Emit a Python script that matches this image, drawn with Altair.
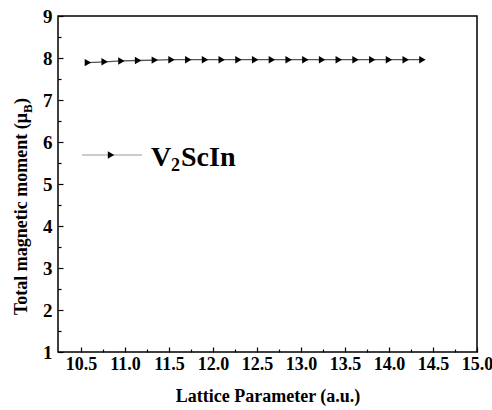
import altair as alt
import pandas as pd

# ---- data ----
lattice = [10.58, 10.77, 10.96, 11.15, 11.34, 11.53, 11.72, 11.91, 12.10, 12.29, 12.48,
           12.67, 12.86, 13.05, 13.24, 13.43, 13.62, 13.81, 14.00, 14.19, 14.38]
moment = [7.89, 7.91, 7.93, 7.94, 7.95, 7.96, 7.96, 7.96, 7.96, 7.96, 7.96,
          7.96, 7.96, 7.96, 7.96, 7.96, 7.96, 7.96, 7.96, 7.96, 7.96]
x_major = [10.5, 11.0, 11.5, 12.0, 12.5, 13.0, 13.5, 14.0, 14.5, 15.0]
x_minor = [10.75, 11.25, 11.75, 12.25, 12.75, 13.25, 13.75, 14.25, 14.75]
y_major = [1, 2, 3, 4, 5, 6, 7, 8, 9]
y_minor = [1.5, 2.5, 3.5, 4.5, 5.5, 6.5, 7.5, 8.5]

df = pd.DataFrame({"a": lattice, "m": moment})

FONT = "Liberation Serif"
xs = alt.Scale(domain=[10.24, 15.0], nice=False, zero=False)
ys = alt.Scale(domain=[1, 9], nice=False, zero=False)

major_x = alt.Axis(values=x_major, format=".1f", orient="bottom", offset=-5, tickSize=5,
                   tickWidth=1.2, tickColor="black", domain=False, grid=False,
                   labelFont=FONT, labelFontWeight="bold", labelFontSize=18, labelColor="black",
                   labelPadding=3, labelFlush=False, labelOverlap=False,
                   title="Lattice Parameter (a.u.)", titleFont=FONT, titleFontWeight="bold",
                   titleFontSize=18, titleColor="black", titlePadding=14)
major_y = alt.Axis(values=y_major, format="d", orient="left", offset=-5, tickSize=5,
                   tickWidth=1.2, tickColor="black", domain=False, grid=False,
                   labelFont=FONT, labelFontWeight="bold", labelFontSize=19, labelColor="black",
                   labelPadding=6, labelFlush=False, labelOverlap=False, title="")
minor_x = alt.Axis(values=x_minor, orient="bottom", offset=-3, tickSize=3, tickWidth=1.2,
                   tickColor="black", domain=False, grid=False, labels=False, title="")
minor_y = alt.Axis(values=y_minor, orient="left", offset=-3, tickSize=3, tickWidth=1.2,
                   tickColor="black", domain=False, grid=False, labels=False, title="")

line = alt.Chart(df).mark_line(color="#555555", strokeWidth=1.3).encode(
    x=alt.X("a:Q", scale=xs, axis=major_x),
    y=alt.Y("m:Q", scale=ys, axis=major_y),
)
pts = alt.Chart(df).mark_point(shape="triangle-right", filled=True, color="black",
                               size=55, opacity=1).encode(
    x=alt.X("a:Q", scale=xs, axis=minor_x),
    y=alt.Y("m:Q", scale=ys, axis=minor_y),
)

# legend (manual)
leg_df = pd.DataFrame({"k": [0]})
leg_line = alt.Chart(leg_df).mark_rule(color="#999999", strokeWidth=1).encode(
    x=alt.value(24), x2=alt.value(84), y=alt.value(139))
leg_pt = alt.Chart(leg_df).mark_point(shape="triangle-right", filled=True, color="black",
                                      size=55, opacity=1).encode(
    x=alt.value(53), y=alt.value(139))
leg_v = alt.Chart(leg_df).mark_text(text="V", font=FONT, fontWeight="bold", fontSize=28,
                                    align="left", baseline="alphabetic", color="black").encode(
    x=alt.value(93), y=alt.value(150))
leg_2 = alt.Chart(leg_df).mark_text(text="2", font=FONT, fontWeight="bold", fontSize=18,
                                    align="left", baseline="alphabetic", color="black").encode(
    x=alt.value(113), y=alt.value(155))
leg_s = alt.Chart(leg_df).mark_text(text="ScIn", font=FONT, fontWeight="bold", fontSize=28,
                                    align="left", baseline="alphabetic", color="black").encode(
    x=alt.value(123), y=alt.value(150))

# y-axis title with subscript (manual)
ttl_main = alt.Chart(leg_df).mark_text(text="Total magnetic moment (μ", font=FONT,
                                       fontWeight="bold", fontSize=18, angle=270,
                                       align="right", baseline="middle", color="black").encode(
    x=alt.value(-36), y=alt.value(97))
ttl_b = alt.Chart(leg_df).mark_text(text="B", font=FONT, fontWeight="bold", fontSize=13,
                                    angle=270, align="left", baseline="middle",
                                    color="black").encode(
    x=alt.value(-30), y=alt.value(97))
ttl_end = alt.Chart(leg_df).mark_text(text=")", font=FONT, fontWeight="bold", fontSize=18,
                                      angle=270, align="left", baseline="middle",
                                      color="black").encode(
    x=alt.value(-36), y=alt.value(88))

chart = alt.layer(line, pts, leg_line, leg_pt, leg_v, leg_2, leg_s,
                  ttl_main, ttl_b, ttl_end).resolve_axis(x="independent", y="independent").properties(
    width=419, height=336,
    autosize=alt.AutoSizeParams(type="none"),
    padding={"left": 58, "top": 16, "right": 15, "bottom": 58},
    background="white",
).configure_view(stroke="black", strokeWidth=1.5)

chart.save("out.html", embed_options={"renderer": "svg", "actions": False})
